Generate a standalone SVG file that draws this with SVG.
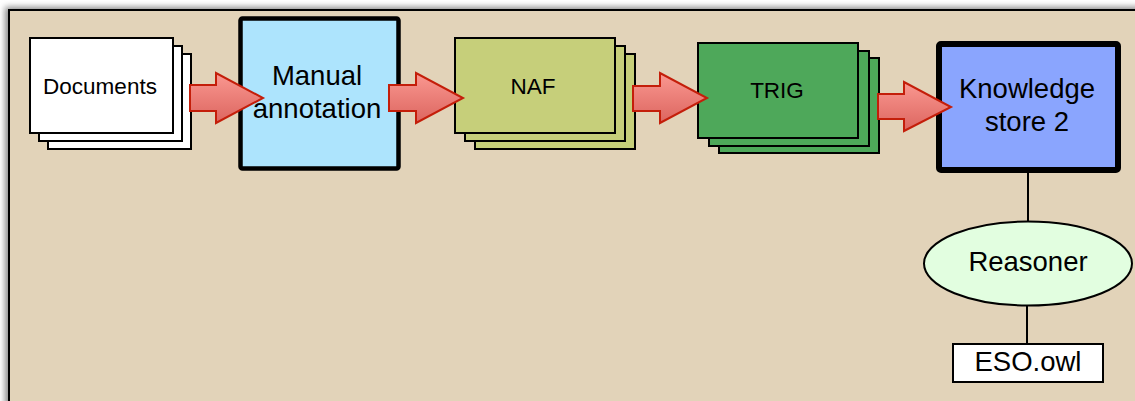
<svg xmlns="http://www.w3.org/2000/svg" width="1135" height="401" viewBox="0 0 1135 401">
<defs>
<linearGradient id="ag" x1="0" y1="0" x2="0" y2="1">
<stop offset="0" stop-color="#fa9891"/>
<stop offset="1" stop-color="#dc655f"/>
</linearGradient>
<filter id="sh" x="-5%" y="-5%" width="110%" height="110%">
<feGaussianBlur stdDeviation="3"/>
</filter>
</defs>
<style>
.doc{fill:#ffffff;stroke:#000;stroke-width:2}
.naf{fill:#c6cf7a;stroke:#000;stroke-width:2}
.trig{fill:#4ea85a;stroke:#000;stroke-width:2}
.t{font-family:"Liberation Sans",Arial,sans-serif;fill:#000;text-anchor:middle}
.s{font-size:22.5px}
.l{font-size:27.5px}
.arr{fill:url(#ag);stroke:#c41e0a;stroke-width:2;stroke-linejoin:miter}
.ln{stroke:#000;stroke-width:2;fill:none}
</style>
<rect x="0" y="0" width="1135" height="401" fill="#ffffff"/>
<rect x="5" y="7" width="1200" height="500" fill="#888" filter="url(#sh)"/>
<rect id="panel" x="9" y="10" width="1200" height="500" fill="#e2d3b9" stroke="#000" stroke-width="2"/>

<g id="documents">
<rect class="doc" x="48" y="54" width="143" height="95"/>
<rect class="doc" x="39" y="46" width="143" height="95"/>
<rect class="doc" x="30" y="38" width="143" height="95"/>
<text class="t s" x="100" y="94">Documents</text>
</g>

<g id="manual-annotation">
<rect x="240.5" y="18.5" width="158" height="150" rx="2" fill="#ade4fd" stroke="#000" stroke-width="4.5"/>
<text class="t l" x="317" y="85">Manual</text>
<text class="t l" x="317" y="118">annotation</text>
</g>

<g id="naf">
<rect class="naf" x="475" y="54" width="160" height="95"/>
<rect class="naf" x="465" y="46" width="160" height="95"/>
<rect class="naf" x="455" y="38" width="160" height="95"/>
<text class="t s" x="533" y="94">NAF</text>
</g>

<g id="trig">
<rect class="trig" x="719" y="58" width="160" height="95"/>
<rect class="trig" x="709" y="51" width="160" height="95"/>
<rect class="trig" x="698" y="43" width="160" height="95"/>
<text class="t s" x="777" y="98">TRIG</text>
</g>

<g id="knowledge-store">
<rect x="939" y="44" width="179" height="126" rx="2" fill="#8aa5fe" stroke="#000" stroke-width="6"/>
<text class="t l" x="1027" y="98">Knowledge</text>
<text class="t l" x="1027" y="131">store 2</text>
</g>

<g id="reasoner">
<ellipse cx="1028" cy="263.5" rx="104" ry="42" fill="#e2fee0" stroke="#000" stroke-width="2"/>
<text class="t l" x="1028" y="271">Reasoner</text>
</g>

<g id="eso">
<rect x="953" y="344" width="150" height="38" fill="#ffffff" stroke="#000" stroke-width="2"/>
<text class="t l" x="1028" y="371">ESO.owl</text>
</g>

<g id="connectors">
<polygon class="arr" points="190,85 216,85 216,73 263,98 216,123 216,111 190,111"/>
<polygon class="arr" points="389,85 416,85 416,73 463,98 416,123 416,111 389,111"/>
<polygon class="arr" points="633,86 660,86 660,73 707,98 660,123 660,111 633,111"/>
<polygon class="arr" points="878,94 904,94 904,82 951,107 904,131 904,119 878,119"/>
<line class="ln" x1="1028" y1="173" x2="1028" y2="221.5"/>
<line class="ln" x1="1027" y1="305.5" x2="1027" y2="343"/>
</g>
</svg>
